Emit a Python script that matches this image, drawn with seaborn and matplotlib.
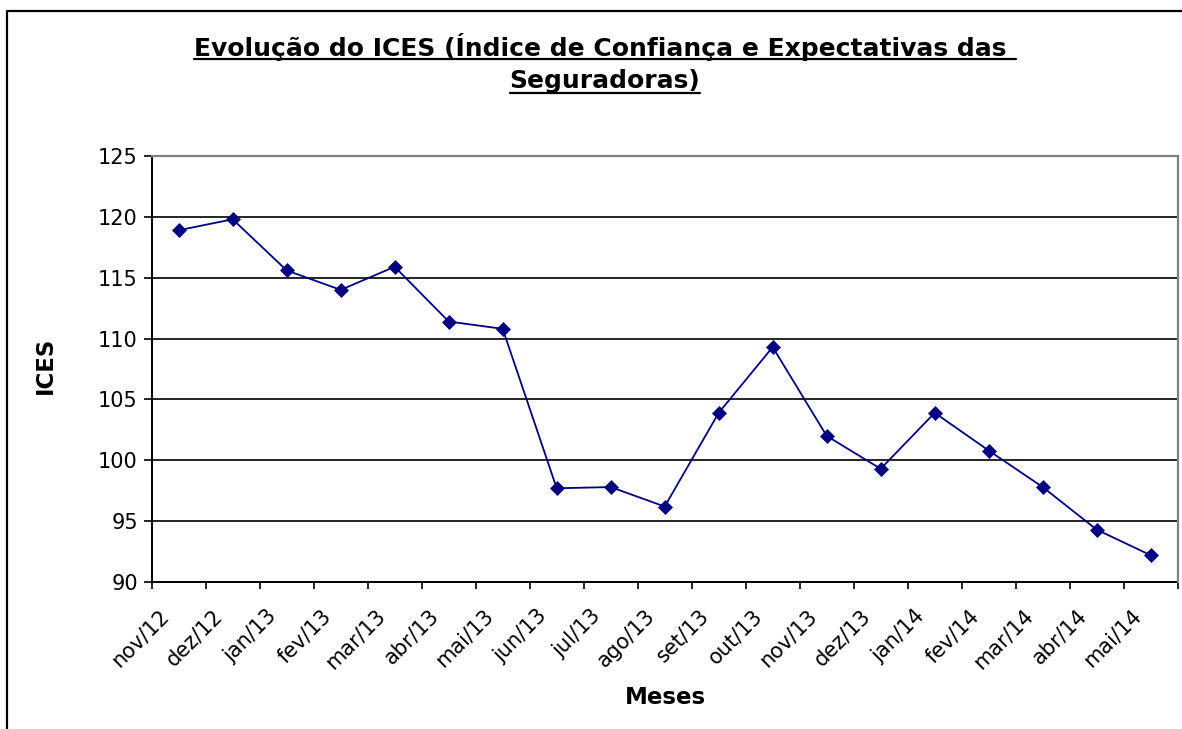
import numpy as np
import pandas as pd
import matplotlib
matplotlib.use("Agg")
import matplotlib.pyplot as plt
import matplotlib.transforms as mtransforms
import seaborn as sns
from matplotlib.lines import Line2D

# ---- data ----
months = ["nov/12", "dez/12", "jan/13", "fev/13", "mar/13", "abr/13", "mai/13",
          "jun/13", "jul/13", "ago/13", "set/13", "out/13", "nov/13", "dez/13",
          "jan/14", "fev/14", "mar/14", "abr/14", "mai/14"]
ices = [118.9, 119.8, 115.6, 114.0, 115.9, 111.4, 110.8,
        97.7, 97.8, 96.2, 103.9, 109.3, 102.0, 99.3,
        103.9, 100.8, 97.8, 94.3, 92.2]
y_ticks = [90, 95, 100, 105, 110, 115, 120, 125]
title_line1 = "Evolução do ICES (Índice de Confiança e Expectativas das "
title_line2 = "Seguradoras)"
x_label = "Meses"
y_label = "ICES"

sns.set_theme(style="white")
plt.rcParams['font.family'] = ['DejaVu Sans']

W, H = 1182, 729
fig = plt.figure(figsize=(W / 100, H / 100), dpi=100)
fig.patch.set_facecolor("white")

# plot area in pixel coords
left, right, top, bottom = 151.7, 1177.7, 156.0, 582.0
ax = fig.add_axes([left / W, 1 - bottom / H, (right - left) / W, (bottom - top) / H])
ax.set_facecolor("white")

n = len(months)
df = pd.DataFrame({"idx": np.arange(n), "ices": ices})
sns.lineplot(data=df, x="idx", y="ices", ax=ax, color="#000080", linewidth=1.3,
             marker="D", markersize=7.5, markeredgecolor="#000080",
             markerfacecolor="#000080", markeredgewidth=0.5, zorder=5)

ax.set_xlim(-0.5, n - 0.5)
ax.set_ylim(y_ticks[0], y_ticks[-1])
ax.set_yticks(y_ticks)
ax.set_yticklabels([str(v) for v in y_ticks], fontsize=15, color="black")
ax.yaxis.grid(True, color="black", linewidth=1.2)
ax.xaxis.grid(False)
ax.set_axisbelow(True)

# category boundaries as tick marks, labels at category centres
ax.set_xticks(np.arange(n + 1) - 0.5)
ax.set_xticklabels([""] * (n + 1))
ax.set_xticks(np.arange(n), minor=True)
ax.set_xticklabels(months, minor=True, rotation=45, ha="right",
                   rotation_mode="anchor", fontsize=15, color="black")
ax.tick_params(axis="x", which="major", length=5, width=1.2, color="black",
               direction="out", bottom=True)
ax.tick_params(axis="x", which="minor", length=0, pad=17)
ax.tick_params(axis="y", which="major", length=6, width=1.2, color="black",
               direction="out", left=True, pad=4)
shift = mtransforms.ScaledTranslation(-0.2, 0, fig.dpi_scale_trans)
for lab in ax.get_xticklabels(minor=True):
    lab.set_transform(lab.get_transform() + shift)

ax.set_xlabel("")
ax.set_ylabel("")
for s in ["left", "bottom"]:
    ax.spines[s].set_color("black")
    ax.spines[s].set_linewidth(1.4)
for s in ["top", "right"]:
    ax.spines[s].set_color("#808080")
    ax.spines[s].set_linewidth(1.6)
    ax.spines[s].set_zorder(3)

# axis titles
fig.text(665 / W, 1 - 698 / H, x_label, ha="center", va="center",
         fontsize=16.5, fontweight="bold", color="black")
fig.text(45 / W, 1 - 365 / H, y_label, ha="center", va="center", rotation=90,
         fontsize=16.5, fontweight="bold", color="black")

# title (two underlined lines)
cx = 605 / W
t1 = fig.text(cx, 1 - 55.7 / H, title_line1.rstrip(), ha="center", va="baseline",
              fontsize=16, fontweight="bold", color="black")
fig.canvas.draw()
r = fig.canvas.get_renderer()
w = t1.get_window_extent(r).width
fs = 16 * 814 / w
t1.set_fontsize(fs)
t1.set_x((193 + 814 / 2) / W)
t2 = fig.text(cx, 1 - 88 / H, title_line2, ha="center", va="baseline",
              fontsize=fs, fontweight="bold", color="black")
fig.canvas.draw()
b1 = t1.get_window_extent(r)
b2 = t2.get_window_extent(r)
fig.add_artist(Line2D([b1.x0 / W, (b1.x1 + 10) / W], [1 - 58.8 / H] * 2,
                      transform=fig.transFigure, color="black", linewidth=1.6))
fig.add_artist(Line2D([b2.x0 / W, b2.x1 / W], [1 - 92.5 / H] * 2,
                      transform=fig.transFigure, color="black", linewidth=1.6))

# outer chart frame (cropped on right/bottom)
fig.add_artist(Line2D([6.7 / W, 6.7 / W, 1.01], [-0.01, 1 - 11 / H, 1 - 11 / H],
                      transform=fig.transFigure, color="black", linewidth=1.6))

fig.savefig("out.png", dpi=100, facecolor="white")
